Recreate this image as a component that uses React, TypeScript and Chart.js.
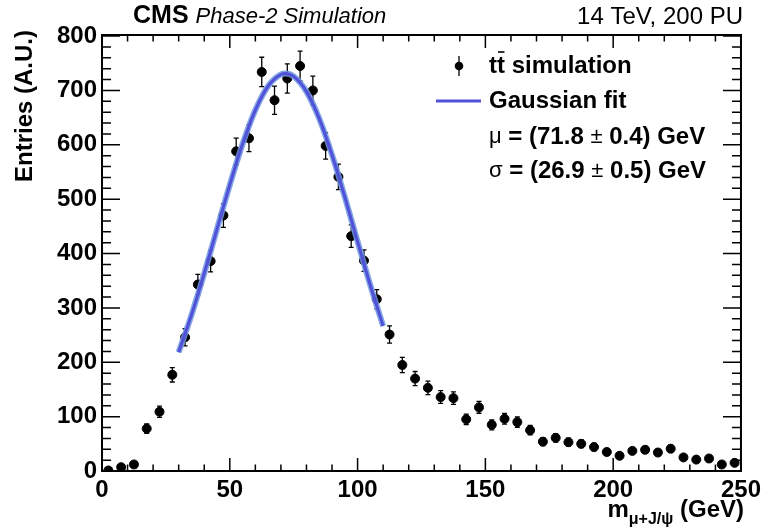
import React, { useEffect, useRef } from "react";
import { Chart, registerables } from "chart.js";

Chart.register(...registerables);

// ---- data ----
const binCenters = [
  2.5, 7.5, 12.5, 17.5, 22.5, 27.5, 32.5, 37.5, 42.5, 47.5,
  52.5, 57.5, 62.5, 67.5, 72.5, 77.5, 82.5, 87.5, 92.5, 97.5,
  102.5, 107.5, 112.5, 117.5, 122.5, 127.5, 132.5, 137.5, 142.5, 147.5,
  152.5, 157.5, 162.5, 167.5, 172.5, 177.5, 182.5, 187.5, 192.5, 197.5,
  202.5, 207.5, 212.5, 217.5, 222.5, 227.5, 232.5, 237.5, 242.5, 247.5,
];
const entries = [
  1, 7, 12, 78, 109, 177, 246, 343, 386, 470,
  588, 612, 734, 682, 722, 745, 700, 598, 541, 432,
  387, 316, 251, 195, 170, 153, 136, 134, 95, 117,
  85, 96, 90, 75, 54, 61, 53, 50, 44, 35,
  28, 37, 39, 34, 41, 25, 21, 23, 12, 15,
];
const entryErrors = [
  1, 2.6, 3.5, 8.8, 10.4, 13.3, 15.7, 18.5, 19.6, 21.7,
  24.2, 24.7, 27.1, 26.1, 26.9, 27.3, 26.5, 24.5, 23.3, 20.8,
  19.7, 17.8, 15.8, 14, 13, 12.4, 11.7, 11.6, 9.7, 10.8,
  9.2, 9.8, 9.5, 8.7, 7.3, 7.8, 7.3, 7.1, 6.6, 5.9,
  5.3, 6.1, 6.2, 5.8, 6.4, 5, 4.6, 4.8, 3.5, 3.9,
];
const fitX = [30, 35, 40, 45, 50, 55, 60, 65, 70, 71.8, 75, 80, 85, 90, 95, 100, 105, 110];
const fitY = [218.6, 286.8, 363.5, 445.1, 526.4, 601.5, 664.0, 708.1, 729.4, 731.0, 725.8, 697.8, 648.1, 581.4, 504.0, 422.0, 341.3, 266.7];

const xTickLabels = [0, 50, 100, 150, 200, 250];
const yTickLabels = [0, 100, 200, 300, 400, 500, 600, 700, 800];

const legendData = "t\u0304t simulation";
const legendFit = "Gaussian fit";
const muLine = ["\u03bc", " = (71.8 ", "\u00b1", " 0.4) GeV"];
const sigmaLine = ["\u03c3", " = (26.9 ", "\u00b1", " 0.5) GeV"];

const FONT = '"Liberation Sans", Arial, Helvetica, sans-serif';
const FIT_COLOR = "#5050d8";
const BAND_COLOR = "rgba(110,150,225,0.85)";

const errorBars = {
  id: "errorBars",
  beforeDatasetDraw(chart: any, args: any) {
    if (args.index !== 0) return;
    const { ctx, scales } = chart;
    const xs = scales.x;
    const ys = scales.y;
    ctx.save();
    ctx.strokeStyle = "#000";
    ctx.lineWidth = 1.3;
    for (let i = 0; i < binCenters.length; i++) {
      const px = xs.getPixelForValue(binCenters[i]);
      const y1 = ys.getPixelForValue(entries[i] - entryErrors[i]);
      const y2 = ys.getPixelForValue(entries[i] + entryErrors[i]);
      ctx.beginPath();
      ctx.moveTo(px, y1);
      ctx.lineTo(px, y2);
      ctx.moveTo(px - 2.5, y1);
      ctx.lineTo(px + 2.5, y1);
      ctx.moveTo(px - 2.5, y2);
      ctx.lineTo(px + 2.5, y2);
      ctx.stroke();
    }
    ctx.restore();
  },
};

const frameAndText = {
  id: "frameAndText",
  afterDraw(chart: any) {
    const { ctx, chartArea, scales } = chart;
    const { left, right, top, bottom } = chartArea;
    const xs = scales.x;
    const ys = scales.y;
    ctx.save();
    ctx.strokeStyle = "#000";
    ctx.lineWidth = 1.5;
    // x ticks (bottom & top)
    for (let v = 0; v <= 250; v += 10) {
      const px = xs.getPixelForValue(v);
      const len = v % 50 === 0 ? 13 : 6.5;
      ctx.beginPath();
      ctx.moveTo(px, bottom);
      ctx.lineTo(px, bottom - len);
      ctx.moveTo(px, top);
      ctx.lineTo(px, top + len);
      ctx.stroke();
    }
    // y ticks (left & right)
    for (let v = 0; v <= 800; v += 20) {
      const py = ys.getPixelForValue(v);
      const len = v % 100 === 0 ? 18 : 9;
      ctx.beginPath();
      ctx.moveTo(left, py);
      ctx.lineTo(left + len, py);
      ctx.moveTo(right, py);
      ctx.lineTo(right - len, py);
      ctx.stroke();
    }
    ctx.lineWidth = 2;
    ctx.strokeRect(left, top, right - left, bottom - top);

    ctx.fillStyle = "#000";
    ctx.textBaseline = "alphabetic";
    // header
    ctx.font = `bold 25px ${FONT}`;
    ctx.textAlign = "left";
    ctx.fillText("CMS", 133, 23);
    const cmsW = ctx.measureText("CMS ").width;
    ctx.font = `italic 22px ${FONT}`;
    ctx.fillText("Phase-2 Simulation", 133 + cmsW, 23);
    ctx.font = `24px ${FONT}`;
    ctx.textAlign = "right";
    ctx.fillText("14 TeV, 200 PU", 743, 24);

    // y title
    ctx.save();
    ctx.translate(32, 30);
    ctx.rotate(-Math.PI / 2);
    ctx.font = `bold 24px ${FONT}`;
    ctx.textAlign = "right";
    ctx.fillText("Entries (A.U.)", 0, 0);
    ctx.restore();

    // x title (right aligned)
    ctx.textAlign = "left";
    ctx.font = `bold 24px ${FONT}`;
    const geV = " (GeV)";
    const wGeV = ctx.measureText(geV).width;
    ctx.font = `bold 16px ${FONT}`;
    const sub = "\u03bc+J/\u03c8";
    const wSub = ctx.measureText(sub).width;
    ctx.font = `bold 24px ${FONT}`;
    const wM = ctx.measureText("m").width;
    let xx = 744 - wGeV - wSub - wM;
    ctx.fillText("m", xx, 517);
    xx += wM;
    ctx.font = `bold 16px ${FONT}`;
    ctx.fillText(sub, xx, 524);
    xx += wSub;
    ctx.font = `bold 24px ${FONT}`;
    ctx.fillText(geV, xx, 517);

    // legend
    const lx = 489;
    ctx.textBaseline = "middle";
    // data marker
    ctx.lineWidth = 1.3;
    ctx.beginPath();
    ctx.moveTo(459, 56);
    ctx.lineTo(459, 76);
    ctx.stroke();
    ctx.beginPath();
    ctx.arc(459, 66, 4.3, 0, Math.PI * 2);
    ctx.fill();
    ctx.font = `bold 24px ${FONT}`;
    ctx.fillText("tt", lx, 66);
    const wt = ctx.measureText("t").width;
    const wtt = ctx.measureText("tt").width;
    ctx.fillText(" simulation", lx + wtt, 66);
    ctx.lineWidth = 1.6;
    ctx.beginPath();
    ctx.moveTo(lx + wt + 1, 52);
    ctx.lineTo(lx + wtt - 0.5, 52);
    ctx.stroke();
    // fit line
    ctx.strokeStyle = FIT_COLOR;
    ctx.lineWidth = 3;
    ctx.beginPath();
    ctx.moveTo(436, 101);
    ctx.lineTo(481, 101);
    ctx.stroke();
    ctx.fillText(legendFit, lx, 101);
    // mu & sigma lines
    const drawParts = (parts: string[], y: number) => {
      let x = lx;
      parts.forEach((p, i) => {
        ctx.font = i % 2 === 0 ? `22px ${FONT}` : `bold 24px ${FONT}`;
        ctx.fillText(p, x, y);
        x += ctx.measureText(p).width;
      });
    };
    drawParts(muLine, 137);
    drawParts(sigmaLine, 171);
    ctx.restore();
  },
};

export default function App() {
  const ref = useRef<HTMLCanvasElement | null>(null);
  useEffect(() => {
    if (!ref.current) return;
    Chart.defaults.font.family = FONT;
    const chart = new Chart(ref.current, {
      type: "scatter",
      data: {
        datasets: [
          {
            label: legendData,
            data: binCenters.map((x, i) => ({ x, y: entries[i] })),
            backgroundColor: "#000",
            borderColor: "#000",
            pointRadius: 4.5,
            pointHoverRadius: 4.5,
            order: 2,
          },
          {
            label: "band",
            data: fitX.map((x, i) => ({ x, y: fitY[i] })),
            showLine: true,
            borderColor: BAND_COLOR,
            borderWidth: 6,
            pointRadius: 0,
            cubicInterpolationMode: "monotone",
            order: 1,
          },
          {
            label: legendFit,
            data: fitX.map((x, i) => ({ x, y: fitY[i] })),
            showLine: true,
            borderColor: FIT_COLOR,
            borderWidth: 3,
            pointRadius: 0,
            cubicInterpolationMode: "monotone",
            order: 0,
          },
        ],
      },
      options: {
        animation: false,
        responsive: false,
        maintainAspectRatio: false,
        events: [],
        layout: { padding: { top: 35, right: 22, left: 0, bottom: 0 } },
        plugins: { legend: { display: false }, tooltip: { enabled: false } },
        scales: {
          x: {
            type: "linear",
            min: 0,
            max: 250,
            grid: { display: false, drawTicks: false },
            border: { display: false },
            afterFit: (s: any) => {
              s.height = 60;
            },
            afterBuildTicks: (s: any) => {
              s.ticks = xTickLabels.map((v) => ({ value: v }));
            },
            ticks: {
              padding: 5,
              maxRotation: 0,
              color: "#000",
              font: { size: 24, weight: "bold", family: FONT },
            },
          },
          y: {
            type: "linear",
            min: 0,
            max: 802,
            grid: { display: false, drawTicks: false },
            border: { display: false },
            afterFit: (s: any) => {
              s.width = 102;
            },
            afterBuildTicks: (s: any) => {
              s.ticks = yTickLabels.map((v) => ({ value: v }));
            },
            ticks: {
              padding: 5,
              color: "#000",
              font: { size: 24, weight: "bold", family: FONT },
            },
          },
        },
      },
      plugins: [errorBars, frameAndText],
    });
    return () => chart.destroy();
  }, []);
  return (
    <div style={{ position: "fixed", left: 0, top: 0, width: 766, height: 531, background: "#fff" }}>
      <canvas ref={ref} width={766} height={531} style={{ width: 766, height: 531 }} />
    </div>
  );
}
